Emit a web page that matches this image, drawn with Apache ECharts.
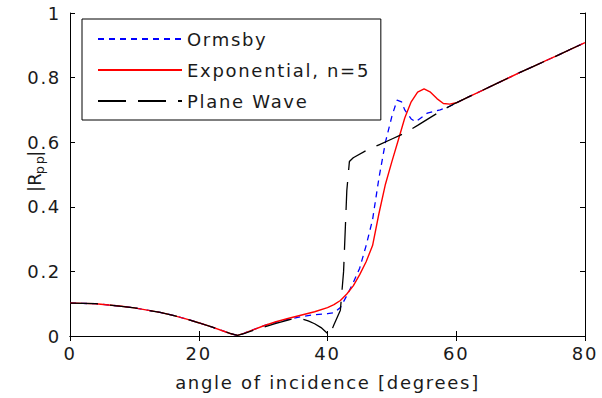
<!DOCTYPE html>
<html>
<head>
<meta charset="utf-8">
<script src="https://cdn.jsdelivr.net/npm/echarts@6/dist/echarts.min.js"></script>
<style>
  html, body { margin: 0; padding: 0; background: #fff; }
  #chart { width: 602px; height: 398px; }
  /* the source picture was stretched sideways, so the lettering runs wide */
  #chart text { letter-spacing: 1.7px; }
</style>
</head>
<body>
<div id="chart"></div>
<script>
// angle of incidence [degrees] and |Rpp|
const ormsbyX = [0, 2, 4, 6, 8, 10, 12, 14, 16, 18, 20, 22, 24, 25, 26, 27, 28, 30, 32, 34, 36, 38, 40, 41, 42, 43, 44, 45, 46, 47, 48, 49, 50, 50.8, 51.5, 52, 53, 53.7, 54.5, 55.5, 56.5, 57.5, 58.5, 59.5, 60, 62, 64, 66, 68, 70, 72, 74, 76, 78, 80];
const ormsbyY = [0.102, 0.101, 0.100, 0.096, 0.092, 0.087, 0.080, 0.073, 0.064, 0.053, 0.041, 0.028, 0.014, 0.007, 0.002, 0.008, 0.016, 0.031, 0.043, 0.052, 0.060, 0.066, 0.069, 0.072, 0.088, 0.125, 0.165, 0.210, 0.280, 0.360, 0.490, 0.600, 0.680, 0.730, 0.725, 0.700, 0.672, 0.663, 0.675, 0.690, 0.695, 0.700, 0.707, 0.716, 0.722, 0.741, 0.760, 0.779, 0.798, 0.817, 0.835, 0.853, 0.871, 0.890, 0.908];

const expX = [0, 2, 4, 6, 8, 10, 12, 14, 16, 18, 20, 22, 24, 25, 26, 27, 28, 30, 32, 34, 36, 38, 40, 41, 42, 43, 44, 45, 46, 47, 48, 49, 50, 51, 52, 53, 54, 55, 56, 57, 58, 59, 60, 62, 64, 66, 68, 70, 72, 74, 76, 78, 80];
const expY = [0.102, 0.101, 0.100, 0.096, 0.092, 0.087, 0.080, 0.073, 0.064, 0.053, 0.041, 0.028, 0.014, 0.007, 0.002, 0.008, 0.016, 0.031, 0.044, 0.055, 0.065, 0.075, 0.088, 0.097, 0.110, 0.130, 0.155, 0.190, 0.230, 0.280, 0.380, 0.470, 0.540, 0.607, 0.675, 0.725, 0.755, 0.765, 0.755, 0.735, 0.720, 0.718, 0.722, 0.741, 0.760, 0.779, 0.798, 0.817, 0.835, 0.853, 0.871, 0.890, 0.908];

const planeX = [0, 2, 4, 6, 8, 10, 12, 14, 16, 18, 20, 22, 24, 25, 26, 27, 28, 30, 32, 34, 35, 36, 37, 38, 39, 40, 40.3, 41, 42, 42.5, 43, 43.4, 44, 46, 48, 50, 52, 54, 56, 58, 60, 62, 64, 66, 68, 70, 72, 74, 76, 78, 80];
const planeY = [0.102, 0.101, 0.100, 0.096, 0.092, 0.087, 0.080, 0.073, 0.064, 0.053, 0.041, 0.028, 0.014, 0.007, 0.002, 0.007, 0.014, 0.027, 0.039, 0.050, 0.055, 0.053, 0.047, 0.038, 0.026, 0.008, 0.000, 0.035, 0.080, 0.200, 0.450, 0.540, 0.552, 0.574, 0.592, 0.610, 0.628, 0.652, 0.677, 0.701, 0.722, 0.741, 0.760, 0.779, 0.798, 0.817, 0.835, 0.853, 0.871, 0.890, 0.908];

const xTicks = [0, 20, 40, 60, 80];
const yTicks = [0, 0.2, 0.4, 0.6, 0.8, 1];

const zip = (xs, ys) => xs.map((x, i) => [x, ys[i]]);
const font = "'DejaVu Sans', Verdana, sans-serif";
const ink = "#1a1a1a";

const chart = echarts.init(document.getElementById("chart"), null, { renderer: "svg" });

const xBase = {
    type: "value",
    min: xTicks[0],
    max: xTicks[xTicks.length - 1],
    interval: 20,
    splitLine: { show: false },
    axisLine: { lineStyle: { color: "#000", width: 1 } },
    axisTick: { inside: true, length: 5, lineStyle: { color: "#000" } },
};
const yBase = {
    type: "value",
    min: yTicks[0],
    max: yTicks[yTicks.length - 1],
    interval: 0.2,
    splitLine: { show: false },
    axisLine: { onZero: false, lineStyle: { color: "#000", width: 1 } },
    axisTick: { inside: true, length: 5, lineStyle: { color: "#000" } },
};

chart.setOption({
    animation: false,
    backgroundColor: "#fff",
    grid: { left: 70, right: 17, top: 13, bottom: 62, outerBoundsMode: "none" },
    legend: {
        orient: "vertical",
        left: 82,
        top: 19,
        padding: [11, 38, 10, 15],
        itemGap: 13,
        itemWidth: 84,
        itemHeight: 14,
        backgroundColor: "#fff",
        borderColor: "#000",
        borderWidth: 1,
        borderRadius: 0,
        itemStyle: { opacity: 0 },
        textStyle: { fontFamily: font, fontSize: 18, color: ink },
        data: ["Ormsby", "Exponential, n=5", "Plane Wave"],
    },
    xAxis: [
        Object.assign({}, xBase, {
            position: "bottom",
            name: "angle of incidence [degrees]",
            nameLocation: "middle",
            nameGap: 37,
            nameMoveOverlap: false,
            nameTextStyle: { fontFamily: font, fontSize: 18, color: ink },
            axisLabel: { margin: 8, fontFamily: font, fontSize: 18, color: ink },
        }),
        Object.assign({}, xBase, { position: "top", axisLabel: { show: false } }),
    ],
    yAxis: [
        Object.assign({}, yBase, {
            position: "left",
            name: "|{r|R}{s|pp}|",
            nameLocation: "middle",
            nameGap: 24,
            nameMoveOverlap: false,
            nameTextStyle: {
                fontFamily: font, fontSize: 18, color: ink,
                padding: [0, 0, 0, 8],
                rich: {
                    r: { fontFamily: font, fontSize: 18, color: ink },
                    s: { fontFamily: font, fontSize: 13, color: ink, padding: [11, 0, 0, 0] },
                },
            },
            axisLabel: {
                margin: 9, fontFamily: font, fontSize: 18, color: ink,
                formatter: (v) => String(Math.round(v * 10) / 10),
            },
        }),
        Object.assign({}, yBase, { position: "right", axisLabel: { show: false } }),
    ],
    series: [
        {
            name: "Ormsby",
            type: "line",
            symbol: "none",
            data: zip(ormsbyX, ormsbyY),
            lineStyle: { color: "#0000ff", width: 1.3, type: [6, 5] },
            itemStyle: { color: "#0000ff" },
        },
        {
            name: "Exponential, n=5",
            type: "line",
            symbol: "none",
            data: zip(expX, expY),
            lineStyle: { color: "#ff0000", width: 1.4, type: "solid" },
            itemStyle: { color: "#ff0000" },
        },
        {
            name: "Plane Wave",
            type: "line",
            symbol: "none",
            data: zip(planeX, planeY),
            lineStyle: { color: "#000", width: 1.3, type: [28, 12] },
            itemStyle: { color: "#000" },
        },
    ],
});
</script>
</body>
</html>
